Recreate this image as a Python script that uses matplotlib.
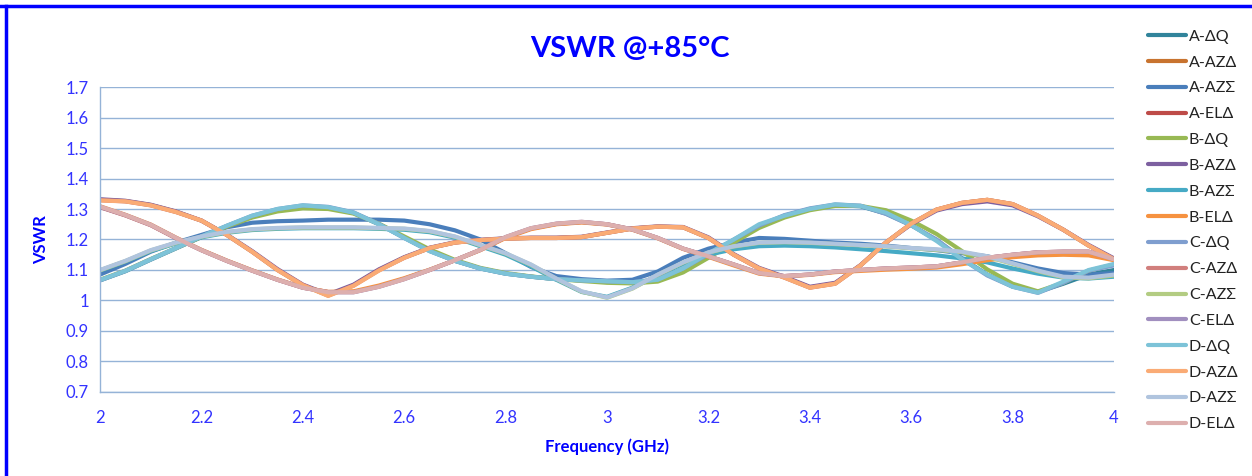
import matplotlib
matplotlib.use('Agg')
import matplotlib.pyplot as plt
from matplotlib.lines import Line2D
from matplotlib.ticker import FuncFormatter, MultipleLocator

plt.rcParams['font.family'] = ['Lato', 'DejaVu Sans']

#################
#     Data      #
#################
freq = [2.00, 2.05, 2.10, 2.15, 2.20, 2.25, 2.30, 2.35, 2.40, 2.45,
        2.50, 2.55, 2.60, 2.65, 2.70, 2.75, 2.80, 2.85, 2.90, 2.95,
        3.00, 3.05, 3.10, 3.15, 3.20, 3.25, 3.30, 3.35, 3.40, 3.45,
        3.50, 3.55, 3.60, 3.65, 3.70, 3.75, 3.80, 3.85, 3.90, 3.95, 4.00]

# dQ channels
a_dq = [1.066, 1.096, 1.134, 1.171, 1.208, 1.244, 1.276, 1.298, 1.310, 1.305,
        1.287, 1.250, 1.206, 1.163, 1.130, 1.105, 1.088, 1.078, 1.070, 1.066,
        1.062, 1.060, 1.068, 1.103, 1.150, 1.198, 1.245, 1.278, 1.300, 1.313,
        1.309, 1.285, 1.247, 1.198, 1.138, 1.085, 1.046, 1.028, 1.055, 1.085, 1.100]
b_dq = [1.068, 1.098, 1.136, 1.172, 1.208, 1.242, 1.272, 1.292, 1.302, 1.300,
        1.285, 1.252, 1.210, 1.168, 1.133, 1.107, 1.090, 1.079, 1.070, 1.064,
        1.058, 1.056, 1.062, 1.092, 1.140, 1.190, 1.238, 1.272, 1.296, 1.310,
        1.310, 1.296, 1.262, 1.218, 1.162, 1.102, 1.055, 1.030, 1.058, 1.098, 1.118]
c_dq = [1.066, 1.097, 1.135, 1.172, 1.210, 1.245, 1.278, 1.300, 1.312, 1.307,
        1.289, 1.251, 1.205, 1.162, 1.130, 1.105, 1.088, 1.078, 1.070, 1.066,
        1.063, 1.060, 1.069, 1.105, 1.152, 1.200, 1.246, 1.280, 1.302, 1.315,
        1.311, 1.284, 1.246, 1.200, 1.136, 1.082, 1.045, 1.025, 1.058, 1.098, 1.115]
d_dq = [1.067, 1.097, 1.135, 1.172, 1.210, 1.245, 1.278, 1.300, 1.312, 1.306,
        1.288, 1.250, 1.205, 1.162, 1.130, 1.105, 1.088, 1.078, 1.070, 1.066,
        1.063, 1.060, 1.068, 1.105, 1.155, 1.200, 1.250, 1.278, 1.300, 1.315,
        1.310, 1.288, 1.247, 1.195, 1.135, 1.085, 1.045, 1.026, 1.062, 1.100, 1.120]

# AZ delta channels
a_azd = [1.330, 1.326, 1.313, 1.291, 1.262, 1.215, 1.160, 1.100, 1.050, 1.017,
         1.050, 1.100, 1.141, 1.172, 1.190, 1.198, 1.203, 1.205, 1.205, 1.208,
         1.222, 1.236, 1.242, 1.240, 1.205, 1.150, 1.105, 1.076, 1.043, 1.056,
         1.115, 1.190, 1.252, 1.298, 1.320, 1.330, 1.316, 1.278, 1.232, 1.180, 1.135]
b_azd = [1.332, 1.327, 1.314, 1.292, 1.262, 1.216, 1.162, 1.103, 1.052, 1.020,
         1.052, 1.102, 1.142, 1.173, 1.191, 1.199, 1.204, 1.206, 1.206, 1.209,
         1.223, 1.237, 1.243, 1.241, 1.207, 1.152, 1.107, 1.078, 1.045, 1.058,
         1.116, 1.190, 1.250, 1.295, 1.316, 1.325, 1.312, 1.276, 1.232, 1.182, 1.138]
c_azd = [1.329, 1.325, 1.312, 1.290, 1.262, 1.215, 1.160, 1.101, 1.051, 1.016,
         1.049, 1.099, 1.140, 1.172, 1.190, 1.198, 1.203, 1.205, 1.205, 1.208,
         1.222, 1.236, 1.242, 1.240, 1.205, 1.150, 1.105, 1.075, 1.042, 1.055,
         1.115, 1.190, 1.252, 1.298, 1.320, 1.330, 1.316, 1.278, 1.232, 1.180, 1.135]
d_azd = [1.328, 1.325, 1.312, 1.290, 1.262, 1.215, 1.160, 1.100, 1.050, 1.015,
         1.048, 1.098, 1.140, 1.172, 1.190, 1.198, 1.203, 1.205, 1.205, 1.208,
         1.222, 1.236, 1.242, 1.240, 1.205, 1.150, 1.105, 1.075, 1.042, 1.055,
         1.115, 1.190, 1.252, 1.298, 1.320, 1.330, 1.316, 1.278, 1.232, 1.180, 1.135]

# AZ sigma channels
a_azs = [1.085, 1.120, 1.160, 1.190, 1.215, 1.240, 1.255, 1.260, 1.262, 1.265,
         1.265, 1.265, 1.262, 1.250, 1.230, 1.200, 1.155, 1.110, 1.080, 1.070,
         1.065, 1.068, 1.095, 1.140, 1.170, 1.190, 1.205, 1.202, 1.196, 1.190,
         1.186, 1.180, 1.172, 1.165, 1.155, 1.145, 1.125, 1.105, 1.090, 1.085, 1.090]
b_azs = [1.098, 1.128, 1.162, 1.187, 1.207, 1.222, 1.231, 1.235, 1.237, 1.237,
         1.237, 1.235, 1.232, 1.224, 1.206, 1.178, 1.150, 1.112, 1.068, 1.028,
         1.012, 1.042, 1.082, 1.120, 1.150, 1.168, 1.178, 1.180, 1.178, 1.174,
         1.168, 1.162, 1.155, 1.148, 1.138, 1.125, 1.105, 1.088, 1.075, 1.072, 1.078]
c_azs = [1.099, 1.129, 1.164, 1.189, 1.209, 1.224, 1.233, 1.237, 1.239, 1.239,
         1.239, 1.237, 1.235, 1.227, 1.209, 1.181, 1.154, 1.117, 1.071, 1.029,
         1.009, 1.039, 1.084, 1.124, 1.157, 1.177, 1.189, 1.191, 1.189, 1.185,
         1.181, 1.177, 1.171, 1.166, 1.158, 1.143, 1.120, 1.096, 1.076, 1.073, 1.082]
d_azs = [1.100, 1.130, 1.165, 1.190, 1.210, 1.225, 1.234, 1.238, 1.240, 1.240,
         1.240, 1.238, 1.236, 1.228, 1.210, 1.182, 1.155, 1.118, 1.072, 1.030,
         1.010, 1.040, 1.085, 1.125, 1.158, 1.178, 1.190, 1.192, 1.190, 1.186,
         1.182, 1.178, 1.172, 1.168, 1.160, 1.145, 1.122, 1.098, 1.078, 1.075, 1.085]

# EL delta channels
a_eld = [1.306, 1.279, 1.247, 1.204, 1.165, 1.130, 1.098, 1.068, 1.042, 1.028,
         1.028, 1.046, 1.071, 1.100, 1.132, 1.166, 1.207, 1.236, 1.251, 1.257,
         1.250, 1.233, 1.205, 1.170, 1.145, 1.118, 1.090, 1.080, 1.085, 1.095,
         1.100, 1.105, 1.108, 1.112, 1.125, 1.140, 1.150, 1.158, 1.160, 1.160, 1.135]
b_eld = [1.309, 1.281, 1.249, 1.206, 1.166, 1.131, 1.099, 1.069, 1.043, 1.028,
         1.030, 1.049, 1.073, 1.101, 1.132, 1.165, 1.205, 1.234, 1.250, 1.256,
         1.249, 1.232, 1.204, 1.169, 1.143, 1.115, 1.088, 1.079, 1.084, 1.093,
         1.097, 1.101, 1.104, 1.108, 1.119, 1.132, 1.142, 1.148, 1.150, 1.148, 1.132]
c_eld = [1.307, 1.280, 1.248, 1.205, 1.165, 1.130, 1.098, 1.068, 1.042, 1.027,
         1.027, 1.045, 1.070, 1.100, 1.132, 1.166, 1.208, 1.237, 1.252, 1.258,
         1.250, 1.233, 1.205, 1.170, 1.145, 1.118, 1.090, 1.080, 1.085, 1.095,
         1.100, 1.105, 1.108, 1.112, 1.125, 1.140, 1.150, 1.158, 1.160, 1.160, 1.135]
d_eld = [1.308, 1.280, 1.248, 1.205, 1.165, 1.130, 1.098, 1.068, 1.042, 1.027,
         1.027, 1.045, 1.070, 1.100, 1.132, 1.166, 1.208, 1.237, 1.252, 1.258,
         1.250, 1.233, 1.205, 1.170, 1.145, 1.118, 1.090, 1.080, 1.085, 1.095,
         1.100, 1.105, 1.108, 1.112, 1.125, 1.140, 1.150, 1.158, 1.160, 1.160, 1.135]

labels = ['A-ΔQ', 'A-AZΔ', 'A-AZΣ', 'A-ELΔ',
          'B-ΔQ', 'B-AZΔ', 'B-AZΣ', 'B-ELΔ',
          'C-ΔQ', 'C-AZΔ', 'C-AZΣ', 'C-ELΔ',
          'D-ΔQ', 'D-AZΔ', 'D-AZΣ', 'D-ELΔ']
series = [a_dq, a_azd, a_azs, a_eld,
          b_dq, b_azd, b_azs, b_eld,
          c_dq, c_azd, c_azs, c_eld,
          d_dq, d_azd, d_azs, d_eld]
colors = ['#31849B', '#C8732F', '#4A7EBB', '#BE4B48',
          '#98B954', '#7D60A0', '#46AAC5', '#F69240',
          '#7F9ECF', '#D17F7D', '#B3CC82', '#A18FBF',
          '#7DC3D8', '#FAAB75', '#B0C4DE', '#DDAFAE']

###################
#      Plot       #
###################
blue = '#0000FF'
tick_blue = '#3333FF'
grid_col = '#95B3D7'

fig = plt.figure(figsize=(12.52, 4.76), dpi=100)
ax = fig.add_axes([0.0799, 0.1765, 0.8099, 0.6407])

for y, lab, c in zip(series, labels, colors):
    ax.plot(freq, y, color=c, lw=3.0, label=lab,
            solid_capstyle='round', solid_joinstyle='round')

ax.set_xlim(2, 4)
ax.set_ylim(0.7, 1.7)
ax.xaxis.set_major_locator(MultipleLocator(0.2))
ax.yaxis.set_major_locator(MultipleLocator(0.1))
fmt = FuncFormatter(lambda v, p: '{:g}'.format(round(v, 2)))
ax.xaxis.set_major_formatter(fmt)
ax.yaxis.set_major_formatter(fmt)
ax.tick_params(length=0, labelsize=12, labelcolor=tick_blue, pad=8)
ax.tick_params(axis='x', pad=13)
ax.grid(axis='y', color=grid_col, lw=1)
ax.set_axisbelow(True)
for s in ['top', 'right']:
    ax.spines[s].set_visible(False)
for s in ['left', 'bottom']:
    ax.spines[s].set_color(grid_col)
    ax.spines[s].set_linewidth(1)

ax.set_xlabel('Frequency (GHz)', color=blue, fontsize=12, fontweight='bold', labelpad=9)
ax.set_ylabel('VSWR', color=blue, fontsize=12, fontweight='bold', labelpad=12)
fig.text(0.503, 0.898, 'VSWR @+85°C', color=blue, fontsize=21, fontweight='bold',
         ha='center', va='center')

leg = fig.legend(loc='upper left', bbox_to_anchor=(0.917, 0.938), frameon=False,
                 fontsize=11.5, handlelength=2.4, handletextpad=0.15,
                 labelspacing=0.73, borderpad=0, borderaxespad=0)
for t in leg.get_texts():
    t.set_color('#222222')

# outer frame (top and left edges)
fig.add_artist(Line2D([0, 1], [0.988, 0.988], transform=fig.transFigure, color=blue, lw=2.5))
fig.add_artist(Line2D([0.005, 0.005], [0, 0.988], transform=fig.transFigure, color=blue, lw=2.5))

plt.savefig('out.png', dpi=100)
